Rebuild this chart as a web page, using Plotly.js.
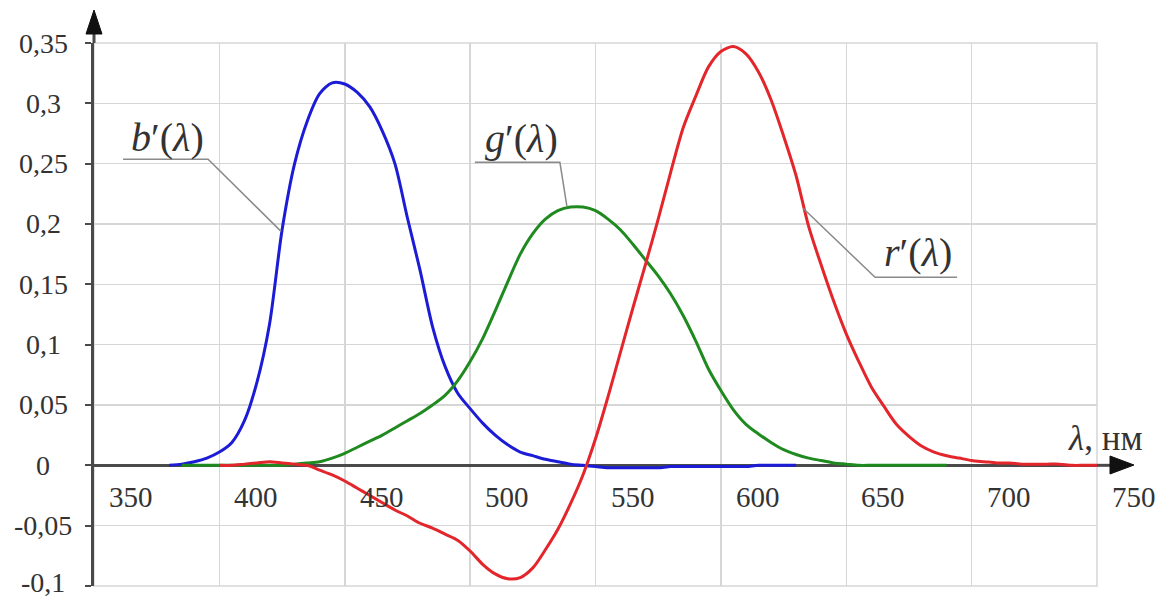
<!DOCTYPE html>
<html>
<head>
<meta charset="utf-8">
<script src="https://cdn.plot.ly/plotly-3.0.1.min.js"></script>
<style>html,body{margin:0;padding:0;background:#fff;}</style>
</head>
<body>
<div id="chart" style="width:1171px;height:600px;"></div>
<script>
// Colour-matching functions r'(λ), g'(λ), b'(λ), wavelength in nm
const wavelength = [380,385,390,395,400,405,410,415,420,425,430,435,440,445,450,455,460,465,470,475,
  480,485,490,495,500,505,510,515,520,525,530,535,540,545,550,555,560,565,570,575,
  580,585,590,595,600,605,610,615,620,625,630,635,640,645,650,655,660,665,670,675,
  680,685,690,695,700,705,710,715,720,725,730,735,740,745,750];

const bValues = [0.000,0.001,0.003,0.006,0.011,0.019,0.037,0.069,0.117,0.195,0.250,0.285,0.308,0.317,0.316,0.309,0.297,0.277,0.250,0.205,
  0.162,0.115,0.082,0.060,0.047,0.035,0.025,0.017,0.011,0.008,0.005,0.003,0.001,0.000,-0.001,-0.002,-0.002,-0.002,-0.002,-0.002,
  -0.001,-0.001,-0.001,-0.001,-0.001,-0.001,-0.001,0.000,0.000,0.000,0.000,null,null,null,null,null,null,null,null,null,
  null,null,null,null,null,null,null,null,null,null,null,null,null,null,null];

const gValues = [null,0.000,0.000,0.000,0.000,0.000,0.000,0.000,0.000,0.000,0.001,0.002,0.003,0.006,0.010,0.015,0.020,0.025,0.031,0.037,
  0.043,0.050,0.058,0.070,0.086,0.105,0.128,0.152,0.175,0.192,0.204,0.211,0.214,0.214,0.211,0.204,0.195,0.183,0.170,0.157,
  0.142,0.124,0.103,0.080,0.062,0.046,0.034,0.026,0.019,0.013,0.009,0.006,0.004,0.002,0.001,0.000,0.000,0.000,0.000,0.000,
  0.000,0.000,0.000,null,null,null,null,null,null,null,null,null,null,null,null];

const rValues = [null,null,null,null,0.000,0.000,0.001,0.002,0.003,0.002,0.001,0.000,-0.004,-0.008,-0.013,-0.019,-0.025,-0.031,-0.037,-0.042,
  -0.048,-0.052,-0.057,-0.062,-0.071,-0.082,-0.090,-0.094,-0.093,-0.085,-0.070,-0.053,-0.032,-0.008,0.022,0.057,0.094,0.131,0.167,0.204,
  0.243,0.280,0.306,0.330,0.343,0.347,0.341,0.326,0.303,0.273,0.240,0.198,0.166,0.136,0.109,0.086,0.065,0.049,0.034,0.024,
  0.016,0.011,0.008,0.006,0.004,0.003,0.002,0.002,0.001,0.001,0.001,0.001,0.000,0.000,0.000];

const xTickVals = [350,400,450,500,550,600,650,700,750];
const xTickText = ['350','400','450','500','550','600','650','700','750'];
const yTickVals = [0.35,0.3,0.25,0.2,0.15,0.1,0.05,0,-0.05,-0.1];
const yTickText = ['0,35','0,3','0,25','0,2','0,15','0,1','0,05','0','-0,05','-0,1'];

const xRange = [350, 750];
const yRange = [-0.1, 0.35];

// frame geometry in pixels
const W = 1171, H = 600;
const M = {l: 94, r: 74, t: 43, b: 14};
const plotW = W - M.l - M.r, plotH = H - M.t - M.b;
const px2fx = px => (px - M.l) / plotW;
const px2fy = py => (H - M.b - py) / plotH;
const yFrac = v => (v - yRange[0]) / (yRange[1] - yRange[0]);

const axisColor = '#4a4a4a';
const gridColor = '#d6d6d6';
const textColor = '#333333';
const serif = '"Liberation Serif", "Times New Roman", Times, serif';

const traces = [
  {x: wavelength, y: bValues, name: "b'", mode: 'lines', line: {color: '#1c1cd6', width: 3, shape: 'spline', smoothing: 0.8}},
  {x: wavelength, y: gValues, name: "g'", mode: 'lines', line: {color: '#1f8a1f', width: 3, shape: 'spline', smoothing: 0.8}},
  {x: wavelength, y: rValues, name: "r'", mode: 'lines', line: {color: '#e3262b', width: 3, shape: 'spline', smoothing: 0.8}}
];

const annotations = [];
xTickVals.forEach((v, i) => annotations.push({
  xref: 'x', yref: 'y', x: v, y: 0, xshift: 37, yshift: -32,
  text: xTickText[i], showarrow: false, xanchor: 'center', yanchor: 'middle',
  font: {family: serif, size: 29, color: textColor}
}));
yTickVals.forEach((v, i) => {
  // the lowest label sits on the bottom edge, so keep its box inside the page
  const atBottom = v === yRange[0];
  annotations.push({
    xref: 'paper', yref: 'paper', x: 0, y: yFrac(v), xshift: -51,
    yshift: atBottom ? -M.b : 0,
    text: yTickText[i], showarrow: false, xanchor: 'center', yanchor: atBottom ? 'bottom' : 'middle',
    font: {family: serif, size: 28, color: textColor}
  });
});

// curve names
const curveFont = {family: serif, size: 40, color: textColor};
annotations.push({xref: 'x', yref: 'y', x: 379.5, y: 0.2718, text: '<i>b</i>′(<i>λ</i>)', showarrow: false, xanchor: 'center', yanchor: 'middle', font: curveFont});
annotations.push({xref: 'x', yref: 'y', x: 520.3, y: 0.271, text: '<i>g</i>′(<i>λ</i>)', showarrow: false, xanchor: 'center', yanchor: 'middle', font: curveFont});
annotations.push({xref: 'x', yref: 'y', x: 678.6, y: 0.1765, text: '<i>r</i>′(<i>λ</i>)', showarrow: false, xanchor: 'center', yanchor: 'middle', font: curveFont});

// axis unit
annotations.push({xref: 'paper', yref: 'paper', x: px2fx(1105), y: px2fy(438),
  text: '<i>λ</i>, нм', showarrow: false, xanchor: 'center', yanchor: 'middle',
  font: {family: serif, size: 35, color: textColor}});

const leader = {color: '#8a8a8a', width: 1.5};
const shapes = [
  // frame of the grid
  {type: 'rect', xref: 'paper', yref: 'paper', x0: 0, y0: 0, x1: 1, y1: 1, line: {color: gridColor, width: 1.5}, layer: 'below'},
  // leaders from the names to the curves
  {type: 'path', xref: 'x', yref: 'y', path: 'M361.6,0.2536 L395.5,0.2536 L424.6,0.1939', line: leader},
  {type: 'path', xref: 'x', yref: 'y', path: 'M501.9,0.2511 L535.8,0.2511 L538.6,0.2146', line: leader},
  {type: 'path', xref: 'x', yref: 'y', path: 'M694.2,0.1558 L661.5,0.1558 L632.8,0.2130', line: leader},
  // axis extensions and arrowheads
  {type: 'line', xref: 'paper', yref: 'paper', x0: 0, x1: 0, y0: 1, y1: px2fy(30), line: {color: axisColor, width: 3}},
  {type: 'path', xref: 'paper', yref: 'paper',
    path: `M${px2fx(86)},${px2fy(34)} L${px2fx(94)},${px2fy(10)} L${px2fx(102)},${px2fy(34)} Z`,
    fillcolor: '#111', line: {color: '#111', width: 1}},
  {type: 'line', xref: 'paper', yref: 'paper', x0: 1, x1: px2fx(1114), y0: yFrac(0), y1: yFrac(0), line: {color: axisColor, width: 3}},
  {type: 'path', xref: 'paper', yref: 'paper',
    path: `M${px2fx(1110)},${px2fy(456)} L${px2fx(1134)},${px2fy(465)} L${px2fx(1110)},${px2fy(474)} Z`,
    fillcolor: '#111', line: {color: '#111', width: 1}}
];

const layout = {
  width: W, height: H,
  margin: M,
  font: {family: serif},
  paper_bgcolor: '#ffffff', plot_bgcolor: '#ffffff',
  showlegend: false,
  xaxis: {range: xRange, tick0: 350, dtick: 50, showgrid: true, gridcolor: gridColor, gridwidth: 1.5,
    zeroline: false, showline: false, showticklabels: false, ticks: '', fixedrange: true},
  yaxis: {range: yRange, tick0: 0, dtick: 0.05, showgrid: true, gridcolor: gridColor, gridwidth: 1.5,
    zeroline: true, zerolinecolor: axisColor, zerolinewidth: 3,
    showline: true, linecolor: axisColor, linewidth: 3, layer: 'below traces',
    ticks: 'outside', ticklen: 6, tickwidth: 2, tickcolor: axisColor, showticklabels: false, fixedrange: true},
  annotations: annotations,
  shapes: shapes
};

Plotly.newPlot('chart', traces, layout, {displayModeBar: false, staticPlot: true});
</script>
</body>
</html>
